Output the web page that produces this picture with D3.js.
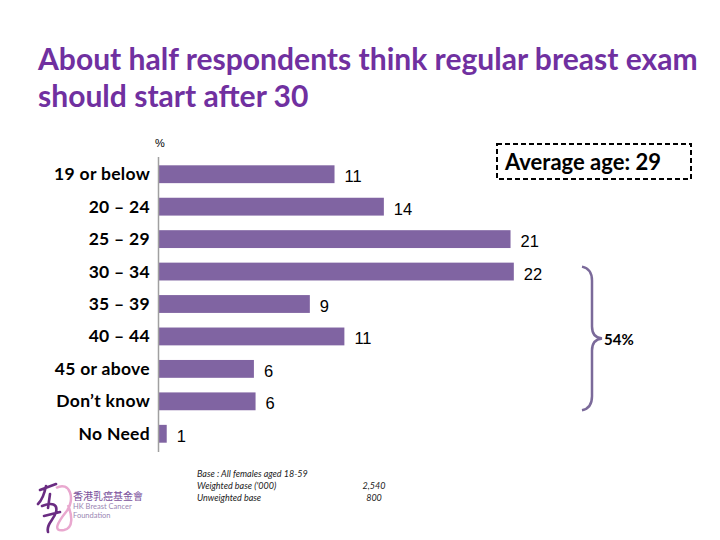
<!DOCTYPE html>
<html>
<head>
<meta charset="utf-8">
<script src="https://cdn.jsdelivr.net/npm/d3@7"></script>
<style>
  body { margin: 0; background: #fff; }
</style>
</head>
<body>
<svg id="chart" width="720" height="540"></svg>
<script>
// data
const categories = ["19 or below", "20 – 24", "25 – 29", "30 – 34", "35 – 39", "40 – 44", "45 or above", "Don’t know", "No Need"];
const values = [10.7, 13.7, 21.4, 21.6, 9.2, 11.3, 5.8, 5.9, 0.5];
const titleLines = ["About half respondents think regular breast exam", "should start after 30"];
const baseNotes = ["Base : All females aged 18-59", "Weighted base ('000)", "Unweighted base"];
const baseNums = ["", "2,540", "800"];

const purple = "#8064A2";
const svg = d3.select("#chart");
const labelFont = "Lato, 'Open Sans', sans-serif";
const numFont = "'Liberation Sans', Arial, sans-serif";

// title, scaled so first line spans the slide like the original
const title = svg.append("g")
  .attr("font-family", labelFont)
  .attr("font-weight", "bold")
  .attr("fill", "#7030A0");
const t1 = title.append("text").attr("x", 38).attr("y", 70).attr("font-size", 28).text(titleLines[0]);
const w = t1.node().getComputedTextLength();
const fs = 28 * 660 / w;
t1.attr("font-size", fs);
title.append("text").attr("x", 38).attr("y", 107).attr("font-size", fs).text(titleLines[1]);

// scales
const x = d3.scaleLinear().domain([0, 25]).range([158.5, 158.5 + 25 * 16.45]);
const y = d3.scaleBand().domain(categories).range([158, 450]).paddingInner(0.45).paddingOuter(0.225);

svg.append("text")
  .attr("x", 155).attr("y", 147)
  .attr("font-family", numFont).attr("font-size", 11)
  .text("%");

// bars
svg.selectAll("rect.bar")
  .data(values)
  .join("rect")
  .attr("class", "bar")
  .attr("x", x(0))
  .attr("y", (d, i) => y(categories[i]))
  .attr("width", d => x(d) - x(0))
  .attr("height", y.bandwidth())
  .attr("fill", purple);

// value labels
svg.selectAll("text.val")
  .data(values)
  .join("text")
  .attr("class", "val")
  .attr("x", d => x(d) + 10)
  .attr("y", (d, i) => y(categories[i]) + y.bandwidth() / 2 + 8)
  .attr("font-family", numFont)
  .attr("font-size", 16.5)
  .text(d => d3.format(".0f")(d));

// axis line + category labels
svg.append("line")
  .attr("x1", x(0)).attr("x2", x(0))
  .attr("y1", 157).attr("y2", 452)
  .attr("stroke", "#a0a0a0").attr("stroke-width", 1.5);

svg.selectAll("text.cat")
  .data(categories)
  .join("text")
  .attr("class", "cat")
  .attr("x", 150)
  .attr("y", d => y(d) + y.bandwidth() / 2 + 6)
  .attr("text-anchor", "end")
  .attr("font-family", labelFont)
  .attr("font-weight", "bold")
  .attr("font-size", 17.5)
  .attr("letter-spacing", 0.3)
  .text(d => d);

// average box
svg.append("rect")
  .attr("x", 497).attr("y", 144).attr("width", 194).attr("height", 35)
  .attr("fill", "none").attr("stroke", "#000")
  .attr("stroke-width", 2).attr("stroke-dasharray", "5,3");
svg.append("text")
  .attr("x", 505).attr("y", 170)
  .attr("font-family", labelFont).attr("font-weight", "bold").attr("font-size", 22)
  .text("Average age: 29");

// bracket over 30–34 .. Don't know
const bTop = y("30 – 34") + 4, bBot = y("Don’t know") + y.bandwidth(), bMid = (bTop + bBot) / 2;
const bx = 582;
const p = d3.path();
p.moveTo(bx, bTop);
p.quadraticCurveTo(bx + 10, bTop + 2, bx + 10, bTop + 14);
p.lineTo(bx + 10, bMid - 12);
p.quadraticCurveTo(bx + 10, bMid - 1, bx + 20, bMid);
p.quadraticCurveTo(bx + 10, bMid + 1, bx + 10, bMid + 12);
p.lineTo(bx + 10, bBot - 14);
p.quadraticCurveTo(bx + 10, bBot - 2, bx, bBot);
svg.append("path")
  .attr("d", p.toString())
  .attr("fill", "none").attr("stroke", "#7B6A9A").attr("stroke-width", 2.5);
svg.append("text")
  .attr("x", 604).attr("y", bMid + 7)
  .attr("font-family", labelFont).attr("font-weight", "bold").attr("font-size", 15)
  .text("54%");

// base notes
const notes = svg.append("g")
  .attr("font-family", labelFont).attr("font-style", "italic").attr("font-size", 9).attr("fill", "#222");
notes.selectAll("text.n")
  .data(baseNotes)
  .join("text")
  .attr("x", 197).attr("y", (d, i) => 477 + i * 12)
  .text(d => d);
notes.selectAll("text.m")
  .data(baseNums)
  .join("text")
  .attr("x", 374).attr("y", (d, i) => 477 + i * 12)
  .attr("text-anchor", "middle")
  .text(d => d);

// logo (rough)
const logo = svg.append("g");
logo.append("path")
  .attr("d", "M56,488 C70,480 76,500 66,512 C58,522 52,532 64,530 C74,528 72,515 68,505")
  .attr("fill", "none").attr("stroke", "#E9A8CF").attr("stroke-width", 2.5);
logo.append("path")
  .attr("d", "M40,490 L56,484 M46,486 C44,496 42,500 38,504 M50,494 L48,508 M42,506 C52,502 58,504 56,512 C54,520 46,524 48,532 M44,516 L60,512")
  .attr("fill", "none").attr("stroke", "#6A2C82").attr("stroke-width", 2.6).attr("stroke-linecap", "round");
logo.append("text").attr("x", 73).attr("y", 500)
  .attr("font-family", "'Noto Sans CJK TC', sans-serif").attr("font-size", 10).attr("fill", "#7A4F9B")
  .text("香港乳癌基金會");
logo.append("text").attr("x", 73).attr("y", 509)
  .attr("font-family", labelFont).attr("font-size", 7.5).attr("fill", "#9A86B3")
  .text("HK Breast Cancer");
logo.append("text").attr("x", 73).attr("y", 518)
  .attr("font-family", labelFont).attr("font-size", 7.5).attr("fill", "#9A86B3")
  .text("Foundation");
</script>
</body>
</html>
